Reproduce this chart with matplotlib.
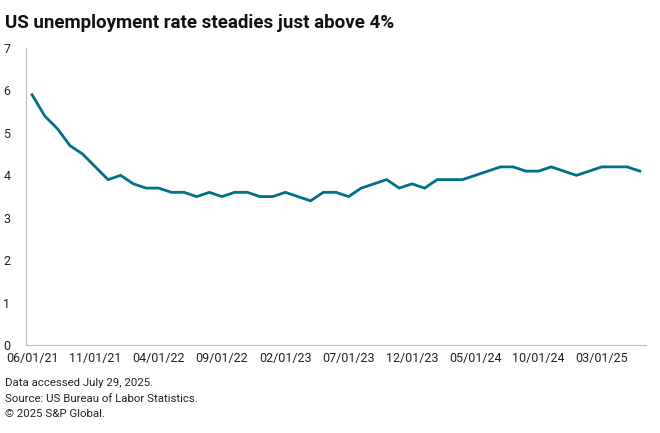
import matplotlib
matplotlib.use("Agg")
import matplotlib.pyplot as plt

# monthly US unemployment rate, 06/2021 .. 06/2025
months = []
for yr in range(2021, 2026):
    for m in range(1, 13):
        if (yr == 2021 and m < 6) or (yr == 2025 and m > 6):
            continue
        months.append(f"{m:02d}/01/{yr % 100:02d}")

rate = [5.9, 5.4, 5.1, 4.7, 4.5, 4.2, 3.9,
        4.0, 3.8, 3.7, 3.7, 3.6, 3.6, 3.5, 3.6, 3.5, 3.6, 3.6, 3.5,
        3.5, 3.6, 3.5, 3.4, 3.6, 3.6, 3.5, 3.7, 3.8, 3.9, 3.7, 3.8,
        3.7, 3.9, 3.9, 3.9, 4.0, 4.1, 4.2, 4.2, 4.1, 4.1, 4.2, 4.1,
        4.0, 4.1, 4.2, 4.2, 4.2, 4.1]

title = "US unemployment rate steadies just above 4%"
notes = ["Data accessed July 29, 2025.",
         "Source: US Bureau of Labor Statistics.",
         "\u00a9 2025 S&P Global."]

plt.rcParams['font.family'] = ['Roboto', 'DejaVu Sans']

fig = plt.figure(figsize=(6.6, 4.33), dpi=100)
ax = fig.add_axes([0.039, 0.203, 0.94, 0.686])

x = list(range(len(rate)))
ax.plot(x, rate, color="#00708A", lw=2.0, solid_joinstyle="miter")

ax.set_xlim(-0.5, len(rate) - 0.5)
ax.set_ylim(0, 7)
ax.set_yticks(range(0, 8))
ax.set_xticks(x[::5])
ax.set_xticklabels(months[::5])
ax.tick_params(length=0, labelsize=9, labelcolor="#222222")
ax.tick_params(axis="y", pad=11)
ax.tick_params(axis="x", pad=5)

for s in ["top", "right"]:
    ax.spines[s].set_visible(False)
for s in ["left", "bottom"]:
    ax.spines[s].set_color("#BBBBBB")
    ax.spines[s].set_linewidth(0.8)

fig.text(0.008, 0.968, title, fontsize=13.5, fontweight="bold",
         va="top", ha="left", color="#111111")
for i, t in enumerate(notes):
    fig.text(0.008, 0.115 - i * 0.036, t, fontsize=8.2, va="center",
             ha="left", color="#222222")

fig.savefig("out.png", dpi=100)
